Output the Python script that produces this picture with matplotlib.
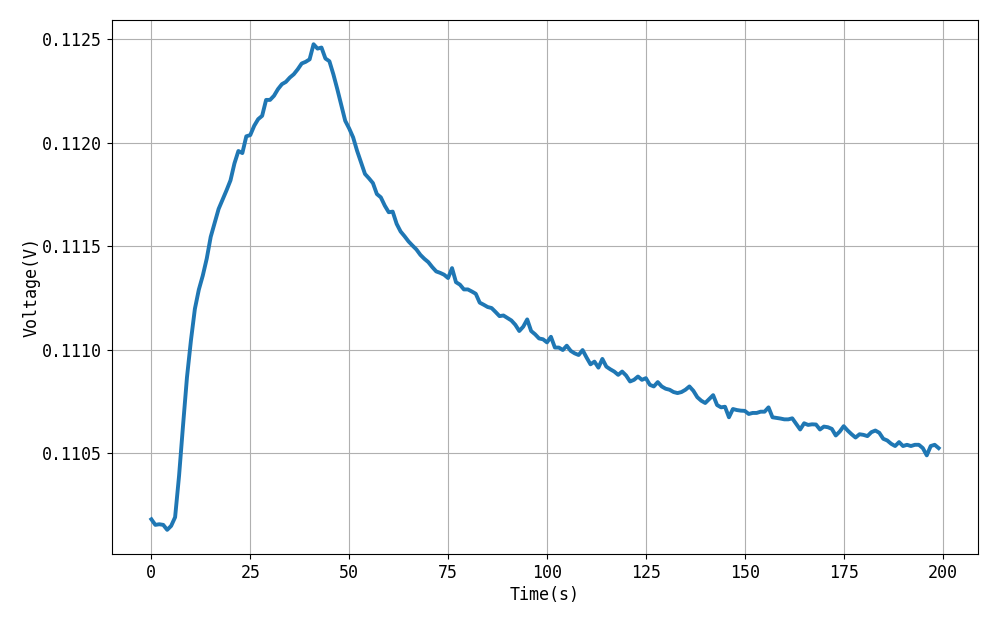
import matplotlib
matplotlib.use("Agg")
import matplotlib.pyplot as plt
import matplotlib.ticker as mticker

plt.rcParams['font.family'] = ['DejaVu Sans Mono', 'Noto Sans CJK SC', 'DejaVu Sans']
plt.rcParams['axes.unicode_minus'] = False

# Time in seconds
time_s = list(range(200))

# Voltage readings (V)
voltage = [
    0.110180, 0.110153, 0.110156, 0.110153, 0.110129, 0.110148, 0.110190, 0.110390, 0.110632, 0.110866,
    0.111044, 0.111197, 0.111290, 0.111358, 0.111440, 0.111545, 0.111613, 0.111680, 0.111725, 0.111770,
    0.111818, 0.111900, 0.111960, 0.111950, 0.112031, 0.112037, 0.112082, 0.112114, 0.112130, 0.112207,
    0.112207, 0.112227, 0.112259, 0.112283, 0.112294, 0.112315, 0.112331, 0.112355, 0.112383, 0.112391,
    0.112403, 0.112476, 0.112455, 0.112460, 0.112407, 0.112394, 0.112331, 0.112259, 0.112182, 0.112106,
    0.112069, 0.112026, 0.111961, 0.111905, 0.111849, 0.111828, 0.111805, 0.111752, 0.111736, 0.111696,
    0.111664, 0.111667, 0.111608, 0.111571, 0.111548, 0.111523, 0.111503, 0.111484, 0.111458, 0.111439,
    0.111423, 0.111399, 0.111378, 0.111371, 0.111362, 0.111346, 0.111394, 0.111326, 0.111314, 0.111291,
    0.111291, 0.111281, 0.111270, 0.111227, 0.111217, 0.111206, 0.111201, 0.111182, 0.111162, 0.111165,
    0.111153, 0.111141, 0.111120, 0.111090, 0.111111, 0.111146, 0.111090, 0.111074, 0.111054, 0.111050,
    0.111035, 0.111062, 0.111010, 0.111010, 0.110998, 0.111019, 0.110994, 0.110982, 0.110974, 0.110998,
    0.110962, 0.110929, 0.110942, 0.110913, 0.110955, 0.110918, 0.110905, 0.110894, 0.110878, 0.110894,
    0.110875, 0.110846, 0.110854, 0.110870, 0.110854, 0.110862, 0.110830, 0.110822, 0.110843, 0.110822,
    0.110811, 0.110806, 0.110795, 0.110790, 0.110795, 0.110806, 0.110822, 0.110801, 0.110770, 0.110753,
    0.110742, 0.110761, 0.110780, 0.110732, 0.110721, 0.110724, 0.110673, 0.110713, 0.110708, 0.110705,
    0.110704, 0.110689, 0.110694, 0.110694, 0.110700, 0.110700, 0.110721, 0.110673, 0.110670, 0.110667,
    0.110663, 0.110663, 0.110668, 0.110641, 0.110614, 0.110644, 0.110636, 0.110639, 0.110638, 0.110614,
    0.110628, 0.110625, 0.110617, 0.110585, 0.110604, 0.110630, 0.110609, 0.110591, 0.110575, 0.110591,
    0.110588, 0.110582, 0.110601, 0.110609, 0.110598, 0.110569, 0.110561, 0.110545, 0.110534, 0.110553,
    0.110534, 0.110540, 0.110534, 0.110540, 0.110540, 0.110524, 0.110489, 0.110534, 0.110540, 0.110524,
]

fig = plt.figure(figsize=(10, 6.24), dpi=100)
ax = fig.add_axes([0.112, 0.112, 0.866, 0.856])
ax.plot(time_s, voltage, color='#1f77b4', linewidth=2.8)
ax.grid(True, color='#b0b0b0', linewidth=0.8)
ax.set_xlabel('Time(s)', fontsize=12, labelpad=3)
ax.set_ylabel('Voltage(V)', fontsize=12, labelpad=1)
ax.tick_params(labelsize=12)
ax.yaxis.set_major_formatter(mticker.FormatStrFormatter('%.4f'))
fig.savefig('out.png', dpi=100)
